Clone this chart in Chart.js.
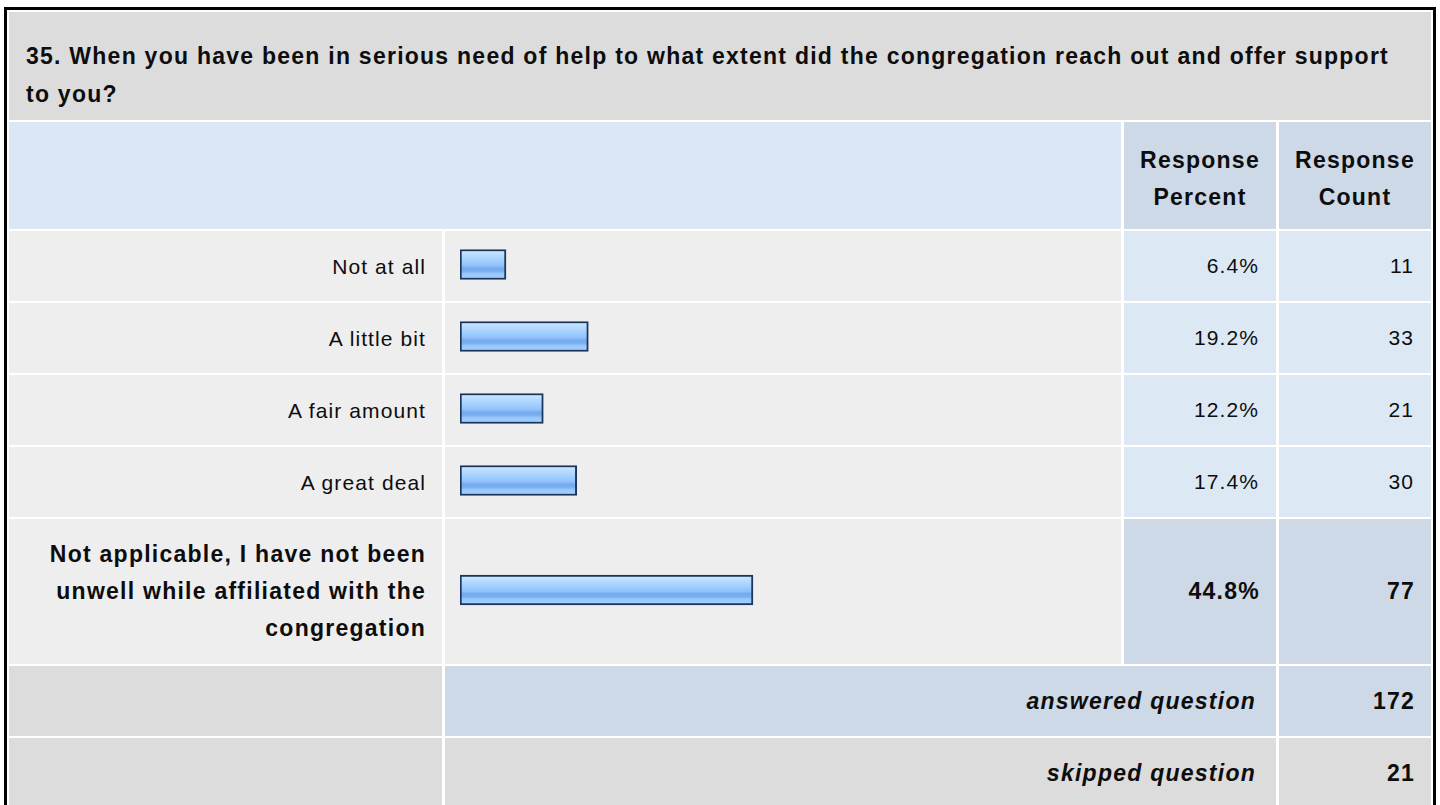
<!DOCTYPE html>
<html>
<head>
<meta charset="utf-8">
<title>Question 35</title>
<script src="https://cdn.jsdelivr.net/npm/chart.js@4.4.0/dist/chart.umd.min.js"></script>
<style>
  body { margin: 0; background: #fff; font-family: "Liberation Sans", Arial, sans-serif; color: #0d0d0d; }
  #box {
    position: absolute; left: 4px; top: 7px; width: 1422px;
    border: 3px solid #000; border-bottom: none; padding: 2px; background: #fff;
  }
  #grid {
    display: grid;
    grid-template-columns: 433px 676px 152px 152px;
    grid-template-rows: 108px 107px 70px 70px 70px 70px 145px 70px 70px;
    column-gap: 3px; row-gap: 2px;
  }
  .cell { display: flex; align-items: center; font-size: 21px; letter-spacing: 1.1px; box-sizing: border-box; white-space: nowrap; }
  .bold, .title, .headNum, .summary { font-size: 23px; letter-spacing: 1.25px; font-weight: bold; }
  .title { grid-column: 1 / 5; background: #dcdcdc; line-height: 38px; padding: 25px 22px 0 17px; align-items: flex-start; white-space: normal; }
  .head { background: #dce7f5; }
  .headNum { background: #cdd9e6; justify-content: center; text-align: center; line-height: 37px; padding-top: 7px; }
  .label { background: #eeeeee; justify-content: flex-end; text-align: right; padding-right: 16px; line-height: 37px; }
  .barCell { background: #eeeeee; position: relative; }
  .num { background: #dde8f5; justify-content: flex-end; padding-right: 17px; }
  .num.bold { padding-right: 16px; }
  .top { background: #cdd9e6; }
  .gray { background: #dcdcdc; }
  .blue { background: #cdd9e6; }
  .summary { grid-column: 2 / 4; justify-content: flex-end; padding-right: 20px; font-style: italic; }
</style>
</head>
<body>
<div id="box"><div id="grid"></div></div>

<script>
const question = '35. When you have been in serious need of help to what extent did the congregation reach out and offer support to you?';
const categories = ['Not at all', 'A little bit', 'A fair amount', 'A great deal', 'Not applicable, I have not been unwell while affiliated with the congregation'];
const percents = [6.4, 19.2, 12.2, 17.4, 44.8];
const counts = [11, 33, 21, 30, 77];
const answered = 172;
const skipped = 21;

// bars start a little left of zero, like the original images
const barBase = -0.75;

function addCell(cls, html) {
    const div = document.createElement('div');
    div.className = 'cell ' + cls;
    div.innerHTML = html;
    document.getElementById('grid').appendChild(div);
    return div;
}

// gradient fill for the glossy bars
function barFill(context) {
    const chart = context.chart;
    const area = chart.chartArea;
    if (!area) return '#9ccbff';
    const mid = (area.top + area.bottom) / 2;
    const g = chart.ctx.createLinearGradient(0, mid - 15, 0, mid + 15);
    g.addColorStop(0, '#d4ecff');
    g.addColorStop(0.2, '#b6daff');
    g.addColorStop(0.42, '#9dcbff');
    g.addColorStop(0.55, '#8fc0fa');
    g.addColorStop(0.62, '#75aaee');
    g.addColorStop(0.72, '#79aef0');
    g.addColorStop(0.8, '#95c6fc');
    g.addColorStop(1, '#abd4ff');
    return g;
}

function renderBar(cell, value) {
    const canvas = document.createElement('canvas');
    cell.appendChild(canvas);
    new Chart(canvas, {
        type: 'bar',
        data: {
            labels: [''],
            datasets: [{
                data: [value],
                base: barBase,
                backgroundColor: barFill,
                borderColor: '#1b355b',
                borderWidth: 2,
                borderSkipped: false,
                barThickness: 30
            }]
        },
        options: {
            indexAxis: 'y',
            responsive: true,
            maintainAspectRatio: false,
            animation: false,
            events: [],
            layout: { padding: { left: 15, right: 13, top: 0, bottom: 3 } },
            scales: {
                x: { display: false, min: barBase, max: 100 },
                y: { display: false }
            },
            plugins: {
                legend: { display: false },
                tooltip: { enabled: false }
            }
        }
    });
}

function buildTable() {
    addCell('title', question);
    addCell('head', '').style.gridColumn = '1 / 3';
    addCell('headNum', 'Response<br>Percent');
    addCell('headNum', 'Response<br>Count');

    // the largest answer is highlighted
    const maxIdx = percents.indexOf(Math.max(...percents));

    categories.forEach(function (cat, i) {
        const hi = i === maxIdx;
        addCell('label' + (hi ? ' bold' : ''), hi ? 'Not applicable, I have not been<br>unwell while affiliated with the<br>congregation' : cat);
        const barCell = addCell('barCell', '');
        renderBar(barCell, percents[i]);
        addCell('num' + (hi ? ' top bold' : ''), percents[i].toFixed(1) + '%');
        addCell('num' + (hi ? ' top bold' : ''), counts[i]);
    });

    addCell('gray', '');
    addCell('summary blue', 'answered question');
    addCell('num blue bold', answered);
    addCell('gray', '');
    addCell('summary gray', 'skipped question');
    addCell('num gray bold', skipped);
}

document.addEventListener('DOMContentLoaded', buildTable);
</script>
</body>
</html>
